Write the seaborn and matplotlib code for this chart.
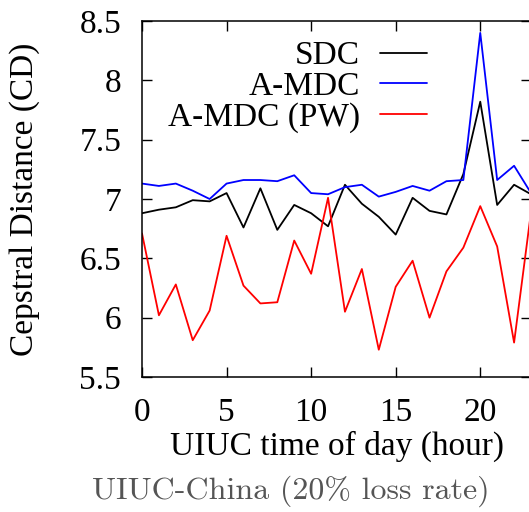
import matplotlib
matplotlib.use("Agg")
import matplotlib.pyplot as plt
import seaborn as sns
import pandas as pd

hours = list(range(24))
sdc = [6.88, 6.91, 6.93, 6.99, 6.98, 7.05, 6.76, 7.09, 6.74, 6.95, 6.88, 6.77,
       7.12, 6.96, 6.85, 6.70, 7.01, 6.90, 6.87, 7.21, 7.82, 6.95, 7.12, 7.04]
amdc = [7.13, 7.11, 7.13, 7.07, 7.00, 7.13, 7.16, 7.16, 7.15, 7.20, 7.05, 7.04,
        7.10, 7.12, 7.02, 7.06, 7.11, 7.07, 7.15, 7.16, 8.40, 7.16, 7.28, 7.05]
amdc_pw = [6.71, 6.02, 6.28, 5.81, 6.06, 6.69, 6.27, 6.12, 6.13, 6.65, 6.37, 7.01,
           6.05, 6.41, 5.73, 6.26, 6.48, 6.00, 6.39, 6.59, 6.94, 6.60, 5.79, 6.89]
series_names = ["SDC", "A-MDC", "A-MDC (PW)"]
series_colors = ["#000000", "#0000ff", "#ff0000"]
x_ticks = [0, 5, 10, 15, 20]
y_ticks = [5.5, 6, 6.5, 7, 7.5, 8, 8.5]
y_tick_labels = ["5.5", "6", "6.5", "7", "7.5", "8", "8.5"]

df = pd.DataFrame({
    "hour": hours * 3,
    "cd": sdc + amdc + amdc_pw,
    "series": [series_names[0]] * 24 + [series_names[1]] * 24 + [series_names[2]] * 24,
})

sns.set_style("ticks")
plt.rcParams["font.family"] = ["Liberation Serif", "DejaVu Serif"]
plt.rcParams["text.color"] = "black"
plt.rcParams["axes.labelcolor"] = "black"
plt.rcParams["xtick.color"] = "black"
plt.rcParams["ytick.color"] = "black"

fig = plt.figure(figsize=(5.29, 5.12), dpi=100)
ax = fig.add_axes([142 / 529, 135 / 512, 389 / 529, 356 / 512])

sns.lineplot(data=df, x="hour", y="cd", hue="series", hue_order=series_names,
             palette=series_colors, linewidth=1.3, ax=ax, legend=True)

ax.set_xlim(0, 23)
ax.set_ylim(5.5, 8.5)
ax.set_xticks(x_ticks)
ax.set_yticks(y_ticks)
ax.set_yticklabels(y_tick_labels)
for s in ax.spines.values():
    s.set_visible(True)
    s.set_linewidth(1.1)
    s.set_color("black")
ax.tick_params(direction="in", length=7, width=1, top=True, right=True,
               labelsize=24, pad=15, colors="black", labelcolor="black")
ax.set_xlabel("UIUC time of day (hour)", fontsize=24, labelpad=2, color="black")
ax.set_ylabel("Cepstral Distance (CD)", fontsize=24, labelpad=28, color="black")

handles, labels = ax.get_legend_handles_labels()
ax.legend(handles, labels, loc="upper left", bbox_to_anchor=(0.007, 1.01),
          frameon=False, markerfirst=False, fontsize=24, handlelength=1.4,
          handletextpad=0.6, labelspacing=0.0, borderaxespad=0.3)
leg = ax.get_legend()
for t in leg.get_texts():
    t.set_ha("right")
    t.set_color("black")
leg._legend_box.align = "right"

fig.text(291 / 529, 1 - 491 / 512, "UIUC-China (20% loss rate)", family="cmr10",
         fontsize=23, color="#555555", ha="center", va="center")

fig.savefig("out.png", dpi=100)
